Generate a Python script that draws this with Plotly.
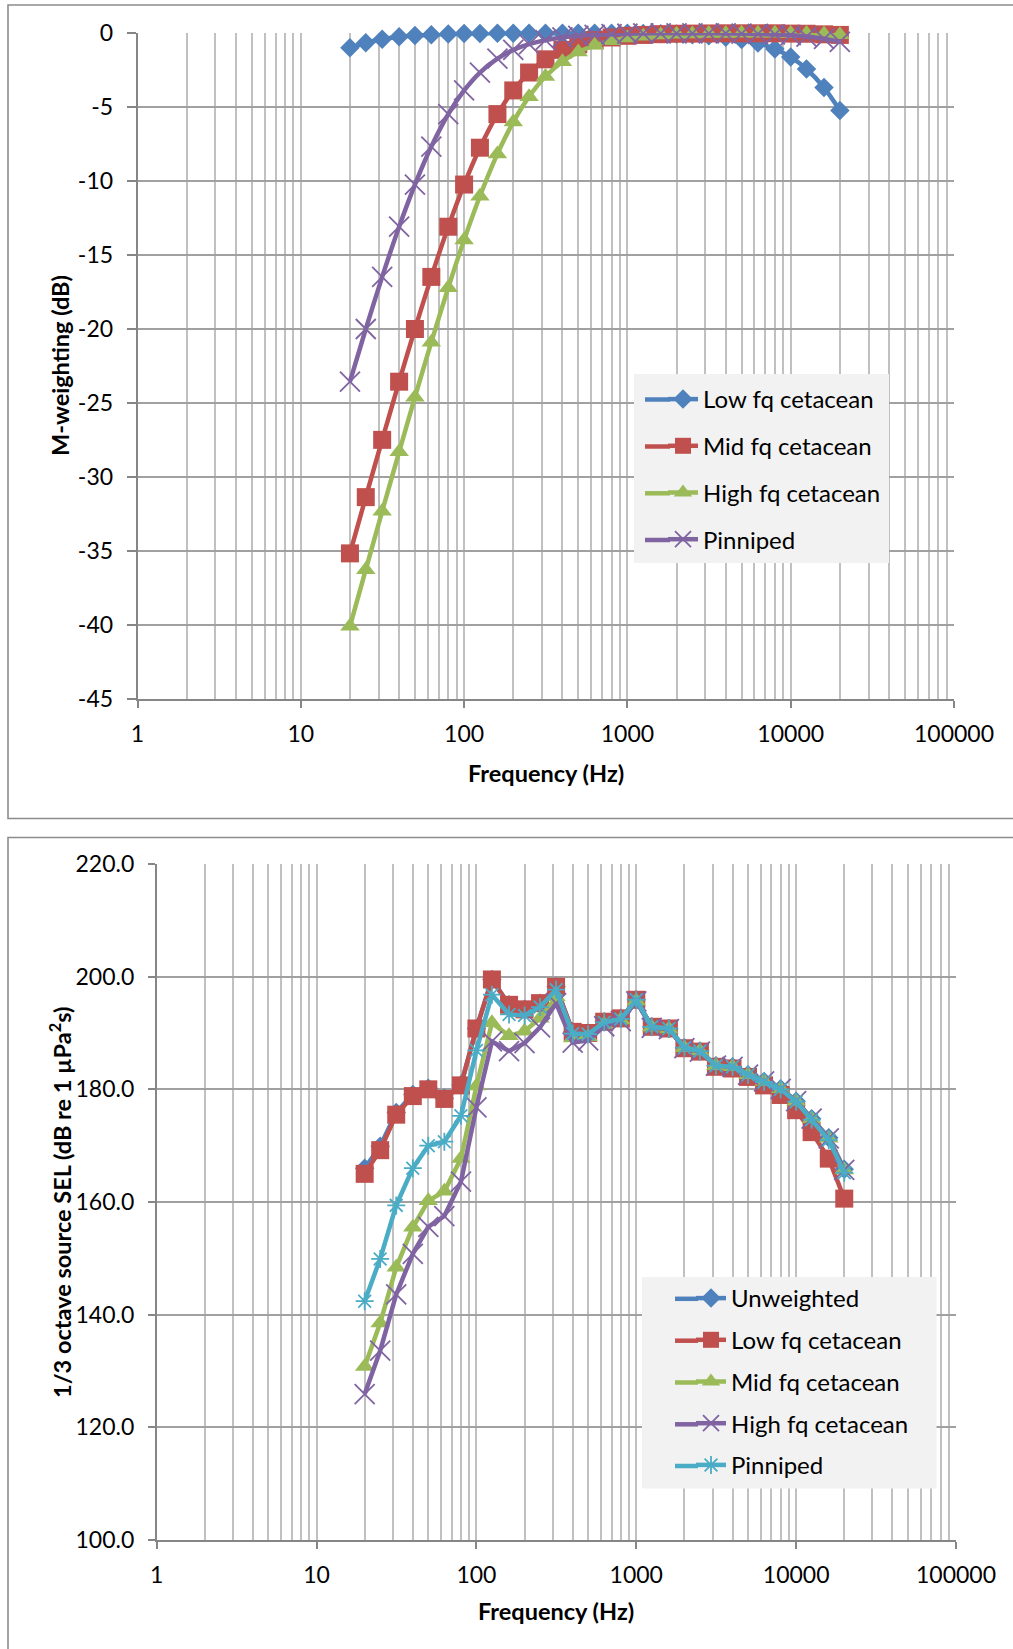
import plotly.graph_objects as go

# ---------------- data ----------------
freq_hz = [20, 25, 31.5, 40, 50, 63, 80, 100, 125, 160, 200, 250, 315, 400, 500, 630,
           800, 1000, 1250, 1600, 2000, 2500, 3150, 4000, 5000, 6300, 8000, 10000,
           12500, 16000, 20000]

# Top chart: M-weighting (dB)
mw_low_fq = [-1.00, -0.66, -0.42, -0.26, -0.17, -0.11, -0.07, -0.04, -0.03, -0.02, -0.01,
             -0.01, -0.01, -0.01, -0.01, -0.01, -0.01, -0.02, -0.03, -0.05, -0.07, -0.11,
             -0.18, -0.28, -0.44, -0.68, -1.08, -1.63, -2.43, -3.69, -5.23]
mw_mid_fq = [-35.16, -31.36, -27.49, -23.56, -20.00, -16.48, -13.09, -10.24, -7.75, -5.48,
             -3.88, -2.67, -1.78, -1.14, -0.75, -0.48, -0.30, -0.19, -0.13, -0.08, -0.05,
             -0.04, -0.03, -0.02, -0.02, -0.02, -0.02, -0.04, -0.05, -0.09, -0.13]
mw_high_fq = [-40.09, -36.26, -32.32, -28.30, -24.61, -20.89, -17.21, -13.98, -11.03, -8.17,
              -6.02, -4.30, -2.94, -1.94, -1.29, -0.83, -0.53, -0.34, -0.22, -0.14, -0.09,
              -0.06, -0.04, -0.03, -0.02, -0.02, -0.02, -0.03, -0.04, -0.07, -0.11]
mw_pinniped = [-23.56, -20.00, -16.48, -13.09, -10.24, -7.67, -5.48, -3.88, -2.67, -1.73,
               -1.14, -0.75, -0.48, -0.30, -0.19, -0.12, -0.08, -0.05, -0.03, -0.02, -0.02,
               -0.02, -0.02, -0.03, -0.04, -0.06, -0.10, -0.15, -0.24, -0.39, -0.60]

# Bottom chart: 1/3 octave source SEL (dB re 1 uPa^2 s)
sel_unweighted = [166.0, 169.9, 175.9, 179.1, 180.2, 178.4, 180.8, 190.8, 199.5, 195.0, 194.2,
                  195.3, 198.2, 190.2, 190.0, 192.0, 192.6, 195.9, 191.1, 190.8, 187.4, 186.8,
                  184.2, 184.0, 182.6, 181.4, 180.1, 177.9, 174.8, 171.4, 165.8]
sel_low_fq = [165.0, 169.2, 175.5, 178.8, 180.0, 178.3, 180.7, 190.8, 199.5, 195.0, 194.2,
              195.3, 198.2, 190.2, 190.0, 192.0, 192.6, 195.9, 191.1, 190.8, 187.3, 186.7,
              184.0, 183.7, 182.2, 180.7, 179.0, 176.3, 172.4, 167.7, 160.6]
sel_mid_fq = [130.8, 138.5, 148.4, 155.5, 160.2, 161.9, 167.7, 180.6, 191.8, 189.5, 190.3,
              192.6, 196.4, 189.1, 189.3, 191.5, 192.3, 195.7, 191.0, 190.7, 187.4, 186.8,
              184.2, 184.0, 182.6, 181.4, 180.1, 177.9, 174.8, 171.3, 165.7]
sel_high_fq = [125.9, 133.6, 143.6, 150.8, 155.6, 157.5, 163.6, 176.8, 188.5, 186.8, 188.2,
               191.0, 195.3, 188.3, 188.7, 191.2, 192.1, 195.6, 190.9, 190.7, 187.3, 186.7,
               184.2, 184.0, 182.6, 181.4, 180.1, 177.9, 174.8, 171.3, 165.7]
sel_pinniped = [142.4, 149.9, 159.4, 166.0, 170.0, 170.7, 175.3, 186.9, 196.8, 193.3, 193.1,
                194.6, 197.7, 189.9, 189.8, 191.9, 192.5, 195.9, 191.1, 190.8, 187.4, 186.8,
                184.2, 184.0, 182.6, 181.3, 180.0, 177.8, 174.6, 171.0, 165.2]

top_names = ["Low fq cetacean", "Mid fq cetacean", "High fq cetacean", "Pinniped"]
bottom_names = ["Unweighted", "Low fq cetacean", "Mid fq cetacean", "High fq cetacean", "Pinniped"]
x_tick_vals = [1, 10, 100, 1000, 10000, 100000]
x_tick_text = ["1", "10", "100", "1000", "10000", "100000"]
y1_tick_vals = [0, -5, -10, -15, -20, -25, -30, -35, -40, -45]
y1_tick_text = ["0", "-5", "-10", "-15", "-20", "-25", "-30", "-35", "-40", "-45"]
y2_tick_vals = [100, 120, 140, 160, 180, 200, 220]
y2_tick_text = ["100.0", "120.0", "140.0", "160.0", "180.0", "200.0", "220.0"]

# ---------------- style ----------------
W, H = 1013, 1649
FONT = "Lato, 'Liberation Sans', Arial, sans-serif"
BLUE, RED, GREEN, PURPLE, CYAN = "#4F81BD", "#C0504D", "#9BBB59", "#8064A2", "#4BACC6"
AXIS_C = "#868686"
GRID_H = "#a0a0a0"
GRID_V = "#c0c0c0"
LW = 4.5
TICK_FS = 23
TITLE_FS = 23.5
LEG_FS = 24

def px_x(p):
    return p / W

def px_y(p):
    return 1 - p / H

marker_styles = {
    "diamond": dict(symbol="diamond", size=15),
    "square": dict(symbol="square", size=18),
    "triangle": dict(symbol="triangle-up", size=17),
    "x": dict(symbol="x-thin-open", size=20, line=dict(width=1.8)),
    "star": dict(symbol="asterisk-open", size=15, line=dict(width=1.8)),
}

fig = go.Figure()

top_series = [mw_low_fq, mw_mid_fq, mw_high_fq, mw_pinniped]
top_colors = [BLUE, RED, GREEN, PURPLE]
top_markers = ["diamond", "square", "triangle", "x"]
for i, (name, vals, col, mk) in enumerate(zip(top_names, top_series, top_colors, top_markers)):
    m = dict(marker_styles[mk])
    m["color"] = col
    if "line" in m:
        m["line"] = dict(m["line"], color=col)
    fig.add_trace(go.Scatter(
        x=freq_hz, y=vals, name=name, mode="lines+markers",
        line=dict(color=col, width=LW, shape="spline", smoothing=0.8),
        marker=m, xaxis="x", yaxis="y", legend="legend",
        legendgroup="t%d" % i, cliponaxis=False,
    ))

bottom_series = [sel_unweighted, sel_low_fq, sel_mid_fq, sel_high_fq, sel_pinniped]
bottom_colors = [BLUE, RED, GREEN, PURPLE, CYAN]
bottom_markers = ["diamond", "square", "triangle", "x", "star"]
for i, (name, vals, col, mk) in enumerate(zip(bottom_names, bottom_series, bottom_colors, bottom_markers)):
    m = dict(marker_styles[mk])
    m["color"] = col
    if "line" in m:
        m["line"] = dict(m["line"], color=col)
    fig.add_trace(go.Scatter(
        x=freq_hz, y=vals, name=name, mode="lines+markers",
        line=dict(color=col, width=LW),
        marker=m, xaxis="x2", yaxis="y2", legend="legend2",
        legendgroup="b%d" % i, cliponaxis=False,
    ))

def xaxis_cfg(domain, anchor, standoff):
    return dict(
        type="log", range=[0, 5], domain=domain, anchor=anchor,
        tickvals=x_tick_vals, ticktext=x_tick_text,
        showline=True, linecolor=AXIS_C, linewidth=1.6,
        ticks="outside", ticklen=7, tickwidth=1.6, tickcolor=AXIS_C,
        ticklabelstandoff=standoff, automargin=False,
        showgrid=True, gridcolor=GRID_V, gridwidth=1.5,
        minor=dict(dtick="D1", showgrid=True, gridcolor=GRID_V, gridwidth=1.5, ticks=""),
        zeroline=False, tickfont=dict(size=TICK_FS, color="black", family=FONT),
    )

def yaxis_cfg(domain, anchor, rng, tv, tt, ticklen, standoff):
    return dict(
        range=rng, domain=domain, anchor=anchor, tickvals=tv, ticktext=tt,
        showline=True, linecolor=AXIS_C, linewidth=1.6,
        ticks="outside", ticklen=ticklen, tickwidth=1.6, tickcolor=AXIS_C,
        ticklabelstandoff=standoff, automargin=False,
        showgrid=True, gridcolor=GRID_H, gridwidth=1.5,
        zeroline=False, tickfont=dict(size=TICK_FS, color="black", family=FONT),
    )

legend_common = dict(
    xanchor="left", yanchor="top", bgcolor="rgba(0,0,0,0)", borderwidth=0,
    font=dict(size=LEG_FS, family=FONT, color="black"),
    traceorder="grouped", itemsizing="trace",
)

# legend panel geometry (pixels) and row centres, used for the panel and the longer key lines
top_leg_box = (634, 374, 889, 563)
top_leg_rows = [399.5, 446.5, 493.3, 540.0]
bot_leg_box = (642, 1277, 936.5, 1488.5)
bot_leg_rows = [1298.8, 1340.7, 1382.5, 1424.3, 1466.0]

shapes = [
    dict(type="rect", xref="paper", yref="paper",
         x0=px_x(8), x1=1.05, y0=px_y(818.5), y1=px_y(5),
         line=dict(color="#8c8c8c", width=1.6), fillcolor="rgba(0,0,0,0)", layer="below"),
    dict(type="rect", xref="paper", yref="paper",
         x0=px_x(8), x1=1.05, y0=-0.05, y1=px_y(837.5),
         line=dict(color="#8c8c8c", width=1.6), fillcolor="rgba(0,0,0,0)", layer="below"),
]
for (bx0, by0, bx1, by1) in (top_leg_box, bot_leg_box):
    shapes.append(dict(type="rect", xref="paper", yref="paper",
                       x0=px_x(bx0), x1=px_x(bx1), y0=px_y(by1), y1=px_y(by0),
                       line=dict(width=0), fillcolor="#F2F2F2", layer="above"))
# extend the legend key lines to the left (Excel key lines are longer than Plotly's)
for ry, col in zip(top_leg_rows, top_colors):
    shapes.append(dict(type="line", xref="paper", yref="paper",
                       x0=px_x(645), x1=px_x(670), y0=px_y(ry), y1=px_y(ry),
                       line=dict(color=col, width=LW), layer="above"))
for ry, col in zip(bot_leg_rows, bottom_colors):
    shapes.append(dict(type="line", xref="paper", yref="paper",
                       x0=px_x(675), x1=px_x(698), y0=px_y(ry), y1=px_y(ry),
                       line=dict(color=col, width=LW), layer="above"))

fig.update_layout(
    width=W, height=H,
    margin=dict(l=0, r=0, t=0, b=0, pad=0, autoexpand=False),
    paper_bgcolor="white", plot_bgcolor="white",
    font=dict(family=FONT, color="black"),
    xaxis=xaxis_cfg([px_x(137.5), px_x(954)], "y", 7),
    yaxis=yaxis_cfg([px_y(699), px_y(33)], "x", [-45, 0], y1_tick_vals, y1_tick_text, 9, 9),
    xaxis2=xaxis_cfg([px_x(156.7), px_x(956)], "y2", 7),
    yaxis2=yaxis_cfg([px_y(1540), px_y(864)], "x2", [100, 220], y2_tick_vals, y2_tick_text, 7, 9),
    legend=dict(legend_common, x=px_x(663), y=px_y(377), tracegroupgap=12.5),
    legend2=dict(legend_common, x=px_x(691), y=px_y(1276), tracegroupgap=7.5),
    shapes=shapes,
    annotations=[
        dict(text="<b>Frequency (Hz)</b>", xref="paper", yref="paper",
             x=px_x(546), y=px_y(773), showarrow=False, xanchor="center", yanchor="middle",
             font=dict(size=TITLE_FS, family=FONT, color="black")),
        dict(text="<b>M-weighting (dB)</b>", xref="paper", yref="paper",
             x=px_x(60), y=px_y(366), showarrow=False, xanchor="center", yanchor="middle",
             textangle=-90, font=dict(size=TITLE_FS, family=FONT, color="black")),
        dict(text="<b>Frequency (Hz)</b>", xref="paper", yref="paper",
             x=px_x(556), y=px_y(1611), showarrow=False, xanchor="center", yanchor="middle",
             font=dict(size=TITLE_FS, family=FONT, color="black")),
        dict(text="<b>1/3 octave source SEL (dB re 1 µPa<sup>2</sup>s)</b>", xref="paper", yref="paper",
             x=px_x(60), y=px_y(1202), showarrow=False, xanchor="center", yanchor="middle",
             textangle=-90, font=dict(size=TITLE_FS, family=FONT, color="black")),
    ],
)

fig.write_html("out.html")
